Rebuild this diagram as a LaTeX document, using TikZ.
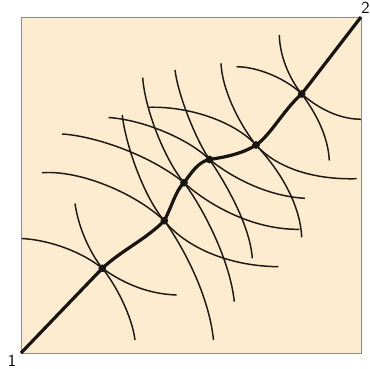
\documentclass[tikz,border=0pt]{standalone}
\usepackage{tikz}
\tikzset{
  wave/.style={line width=1.05pt, color={rgb,255:red,30; green,26; blue,22}},
  ray/.style={line width=2.3pt, color={rgb,255:red,25; green,22; blue,18}},
  dot/.style={circle, fill={rgb,255:red,25; green,22; blue,18}, inner sep=0pt, minimum size=5.5pt},
}

\begin{document}
\begin{tikzpicture}[x=0.025cm,y=-0.025cm]
\useasboundingbox (0,0) rectangle (370,369);
\draw[fill={rgb,255:red,254; green,236; blue,208}, draw={rgb,255:red,140; green,140; blue,140}, line width=0.7pt] (21,17) rectangle (361,353);

\coordinate (p1) at (21,353);
\coordinate (p2) at (361,17);
\node[dot] (d1) at (102.3,268.3) {};
\node[dot] (d2) at (164.3,220.7) {};
\node[dot] (d3) at (184,182.7) {};
\node[dot] (d4) at (209.5,159.5) {};
\node[dot] (d5) at (256,145) {};
\node[dot] (d6) at (301.7,94) {};

\draw[wave] (21.7,238.5) .. controls (50,240) and (82,252) .. (d1.center) .. controls (120,281) and (145,294) .. (176.7,295);
\draw[wave] (75,203.5) .. controls (78,225) and (88,250) .. (d1.center) .. controls (116,285) and (132,316) .. (135,340);
\draw[wave] (42,172.7) .. controls (80,170) and (135,193) .. (d2.center) .. controls (182,243) and (222,266) .. (278.3,266.7);
\draw[wave] (122.3,115) .. controls (125,142) and (143,196) .. (d2.center) .. controls (184,248) and (209,296) .. (213.5,340);
\draw[wave] (62,134) .. controls (95,136) and (150,155) .. (d3.center) .. controls (205,202) and (250,230) .. (299.3,229.3);
\draw[wave] (142.7,77.7) .. controls (145,110) and (165,160) .. (d3.center) .. controls (203,208) and (230,260) .. (234.3,301.7);
\draw[wave] (108.5,117.5) .. controls (145,120) and (190,140) .. (d4.center) .. controls (230,176) and (265,196) .. (305,198.3);
\draw[wave] (175,70) .. controls (178,95) and (196,140) .. (d4.center) .. controls (225,182) and (250,225) .. (252.3,258.3);
\draw[wave] (148.3,107.3) .. controls (190,106) and (235,122) .. (d5.center) .. controls (275,166) and (310,180) .. (356.7,178.7);
\draw[wave] (221,63.3) .. controls (222,90) and (240,125) .. (d5.center) .. controls (275,165) and (300,200) .. (301.7,237.3);
\draw[wave] (236.5,66.7) .. controls (262,67) and (290,82) .. (d6.center) .. controls (318,108) and (338,119) .. (361,119.3);
\draw[wave] (279.3,35) .. controls (280,60) and (292,82) .. (d6.center) .. controls (315,112) and (328,135) .. (329.3,160.5);

\draw[ray] (p1) -- (d1.center) .. controls (122,250) and (145,240) .. (d2.center)
  .. controls (172,206) and (176,190) .. (d3.center)
  .. controls (192,172) and (198,162) .. (d4.center)
  .. controls (225,157) and (242,154) .. (d5.center)
  .. controls (270,136) and (285,108) .. (d6.center) -- (p2);

\node[font=\sffamily\large] (n1) at (12,361) {1};
\node[font=\sffamily\large] (n2) at (365.5,8) {2};

\end{tikzpicture}
\end{document}
